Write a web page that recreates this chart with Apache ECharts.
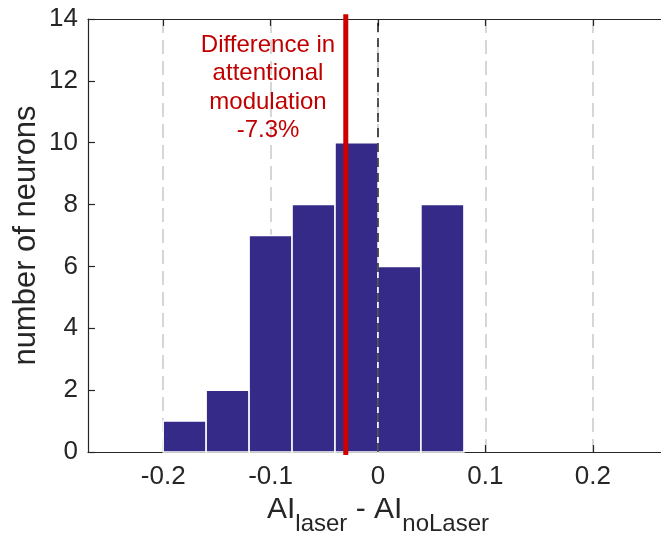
<!DOCTYPE html>
<html>
<head>
<meta charset="utf-8">
<script src="https://cdn.jsdelivr.net/npm/echarts@6/dist/echarts.min.js"></script>
<style>
  html, body { margin: 0; padding: 0; background: #fff; }
  #chart { width: 661px; height: 538px; }
</style>
</head>
<body>
<div id="chart"></div>
<script>
// Histogram bin edges (AI_laser - AI_noLaser) and neuron counts per bin
const binEdges = [-0.2, -0.16, -0.12, -0.08, -0.04, 0, 0.04, 0.08];
const counts = [1, 2, 7, 8, 10, 6, 8];
// Mean difference marker and its annotation
const meanDiff = -0.03;
const noteLines = ['Difference in', 'attentional', 'modulation', '-7.3%'];
// Axis ranges and ticks
const xRange = [-0.27, 0.27];
const xTicks = [-0.2, -0.1, 0, 0.1, 0.2];
const xTickLabels = ['-0.2', '-0.1', '0', '0.1', '0.2'];
const yTicks = [0, 2, 4, 6, 8, 10, 12, 14];

const FONT = 'Liberation Sans, Arial, Helvetica, sans-serif';
const AXIS_COLOR = '#262626';

const histData = counts.map((c, i) => [binEdges[i], binEdges[i + 1], c]);

const chart = echarts.init(document.getElementById('chart'), null, { renderer: 'canvas' });

const baseX = {
  type: 'value',
  min: xRange[0],
  max: xRange[1],
  axisLine: { show: true, onZero: false, lineStyle: { color: AXIS_COLOR, width: 1.2 } },
  axisTick: { show: true, inside: true, length: 7, customValues: xTicks, lineStyle: { color: AXIS_COLOR, width: 1.2 } },
  splitLine: { show: false }
};
const baseY = {
  type: 'value',
  min: yTicks[0],
  max: yTicks[yTicks.length - 1],
  interval: 2,
  axisLine: { show: true, onZero: false, lineStyle: { color: AXIS_COLOR, width: 1.2 } },
  axisTick: { show: true, inside: true, length: 7, lineStyle: { color: AXIS_COLOR, width: 1.2 } },
  splitLine: { show: false }
};

chart.setOption({
  animation: false,
  backgroundColor: '#ffffff',
  textStyle: { fontFamily: FONT },
  grid: { left: 88, top: 19, width: 580, height: 433, containLabel: false, outerBoundsMode: 'none' },
  xAxis: [
    Object.assign({}, baseX, {
      position: 'bottom',
      splitLine: { show: true, lineStyle: { color: '#d6d6d6', width: 2, type: [14, 7] } },
      axisLabel: {
        customValues: xTicks,
        formatter: v => xTickLabels[xTicks.findIndex(t => Math.abs(t - v) < 1e-9)] ?? '',
        color: AXIS_COLOR, fontSize: 26, fontFamily: FONT, margin: 12
      },
      name: '{m|AI}{s|laser}{m| - AI}{s|noLaser}',
      nameLocation: 'middle',
      nameGap: 34,
      nameTextStyle: {
        rich: {
          m: { fontSize: 30, fontFamily: FONT, color: AXIS_COLOR, padding: [0, 0, 6, 0] },
          s: { fontSize: 24, fontFamily: FONT, color: AXIS_COLOR, padding: [22, 0, 0, 0] }
        }
      }
    }),
    Object.assign({}, baseX, { position: 'top', axisLabel: { show: false } })
  ],
  yAxis: [
    Object.assign({}, baseY, {
      position: 'left',
      axisLabel: { color: AXIS_COLOR, fontSize: 26, fontFamily: FONT, margin: 10 },
      name: 'number of neurons',
      nameLocation: 'middle',
      nameGap: 46,
      nameMoveOverlap: false,
      nameTextStyle: { color: AXIS_COLOR, fontSize: 31, fontFamily: FONT }
    }),
    Object.assign({}, baseY, { position: 'right', axisLabel: { show: false } })
  ],
  series: [
    {
      type: 'custom',
      xAxisIndex: 0,
      yAxisIndex: 0,
      data: histData,
      z: 3,
      renderItem: function (params, api) {
        const p0 = api.coord([api.value(0), api.value(2)]);
        const p1 = api.coord([api.value(1), 0]);
        return {
          type: 'rect',
          shape: { x: p0[0], y: p0[1], width: p1[0] - p0[0], height: p1[1] - p0[1] },
          style: { fill: '#352a87', stroke: '#ffffff', lineWidth: 1.5 }
        };
      }
    },
    {
      // zero reference line
      type: 'line',
      data: [[0, 0], [0, 14]],
      symbol: 'none',
      z: 4,
      lineStyle: { color: '#000000', width: 1.3, type: [9, 6] }
    },
    {
      // mean difference marker
      type: 'line',
      data: [[meanDiff, -0.1], [meanDiff, 14.15]],
      symbol: 'none',
      clip: false,
      z: 5,
      lineStyle: { color: '#cc0000', width: 5 }
    }
  ],
  graphic: [
    {
      type: 'text',
      x: 268,
      y: 31,
      z: 10,
      style: {
        text: noteLines.join('\n'),
        align: 'center',
        verticalAlign: 'top',
        fill: '#c00000',
        font: '24px ' + FONT,
        lineHeight: 28.5
      }
    }
  ]
});
</script>
</body>
</html>
